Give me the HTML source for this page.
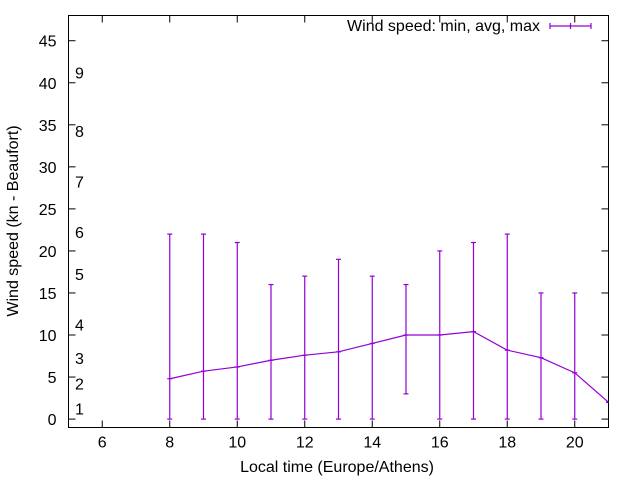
<!DOCTYPE html>
<html><head><meta charset="utf-8"><style>
body{margin:0;background:#fff}
svg text{font-family:"Liberation Sans",sans-serif;font-size:16px;fill:#000}
</style></head><body>
<svg id="chart" width="640" height="480" xmlns="http://www.w3.org/2000/svg">
<g id="axes"></g>
<g id="beaufort"></g>
<g id="series"></g>
<text x="337" y="472" text-anchor="middle">Local time (Europe/Athens)</text>
<text transform="translate(18,221) rotate(-90)" text-anchor="middle">Wind speed (kn - Beaufort)</text>
<g>
<text x="540" y="31" text-anchor="end">Wind speed: min, avg, max</text>
<g stroke="#9400d3" stroke-width="1.2">
<line x1="550" y1="26" x2="591" y2="26"/><line x1="550" y1="23" x2="550" y2="29"/><line x1="591" y1="23" x2="591" y2="29"/><line x1="570.5" y1="23" x2="570.5" y2="29"/>
</g></g>
</svg>
<script>
const hours=[8,9,10,11,12,13,14,15,16,17,18,19,20,21];
const avgSpeed=[4.8,5.7,6.2,7.0,7.6,8.0,9.0,10.0,10.0,10.4,8.2,7.3,5.5,2.0];
const minSpeed=[0,0,0,0,0,0,0,3,0,0,0,0,0,2];
const maxSpeed=[22,22,21,16,17,19,17,16,20,21,22,15,15,2];
const xTicks=[6,8,10,12,14,16,18,20];
const yTicks=[0,5,10,15,20,25,30,35,40,45];
const beaufortLevels=[1,4,7,11,17,22,28,34,41];
const beaufortLabels=["1","2","3","4","5","6","7","8","9"];
const L=68.5,R=608.5,T=15.5,B=427.5,xmin=5,xmax=21,ymin=-1,ymax=48;
const X=v=>L+(v-xmin)/(xmax-xmin)*(R-L);
const Y=v=>B-(v-ymin)/(ymax-ymin)*(B-T);
const NS="http://www.w3.org/2000/svg";
function mk(p,tag,at,txt){const e=document.createElementNS(NS,tag);for(const k in at)e.setAttribute(k,at[k]);if(txt!=null)e.textContent=txt;p.appendChild(e);return e;}
const ax=document.getElementById('axes');
const box=mk(ax,'rect',{x:L,y:T,width:R-L,height:B-T,fill:'none',stroke:'#000','stroke-width':1});


xTicks.forEach(t=>{const x=X(t);
 mk(ax,'line',{x1:x,y1:B,x2:x,y2:B-7,stroke:'#000'});
 mk(ax,'line',{x1:x,y1:T,x2:x,y2:T+7,stroke:'#000'});
 const tx=mk(ax,'text',{x:x,y:B+20,'text-anchor':'middle'},t);
 
 
});
yTicks.forEach(t=>{const y=Y(t);
 mk(ax,'line',{x1:L,y1:y,x2:L+7,y2:y,stroke:'#000'});
 mk(ax,'line',{x1:R,y1:y,x2:R-7,y2:y,stroke:'#000'});
 const tx=mk(ax,'text',{x:L-12,y:y+6,'text-anchor':'end'},t);
 
 
});
const bf=document.getElementById('beaufort');
beaufortLevels.forEach((v,i)=>{
 const tx=mk(bf,'text',{x:75,y:Y(v)+4},beaufortLabels[i]);
 
 
});
const s=document.getElementById('series');
const clip=mk(s,'clipPath',{id:'cp'});mk(clip,'rect',{x:L,y:T,width:R-L,height:B-T});
const g=mk(s,'g',{'clip-path':'url(#cp)',stroke:'#9400d3','stroke-width':1.2,fill:'none'});
hours.forEach((h,i)=>{const x=X(h);
 const bar=mk(g,'line',{x1:x,y1:Y(minSpeed[i]),x2:x,y2:Y(maxSpeed[i])});
 
 
 mk(g,'line',{x1:x-2.5,y1:Y(minSpeed[i]),x2:x+2.5,y2:Y(minSpeed[i])});
 mk(g,'line',{x1:x-2.5,y1:Y(maxSpeed[i]),x2:x+2.5,y2:Y(maxSpeed[i])});
 mk(g,'line',{x1:x-2.5,y1:Y(avgSpeed[i]),x2:x+2.5,y2:Y(avgSpeed[i])});
});
const pl=mk(g,'polyline',{points:hours.map((h,i)=>X(h)+','+Y(avgSpeed[i])).join(' ')});


</script>
</body></html>
